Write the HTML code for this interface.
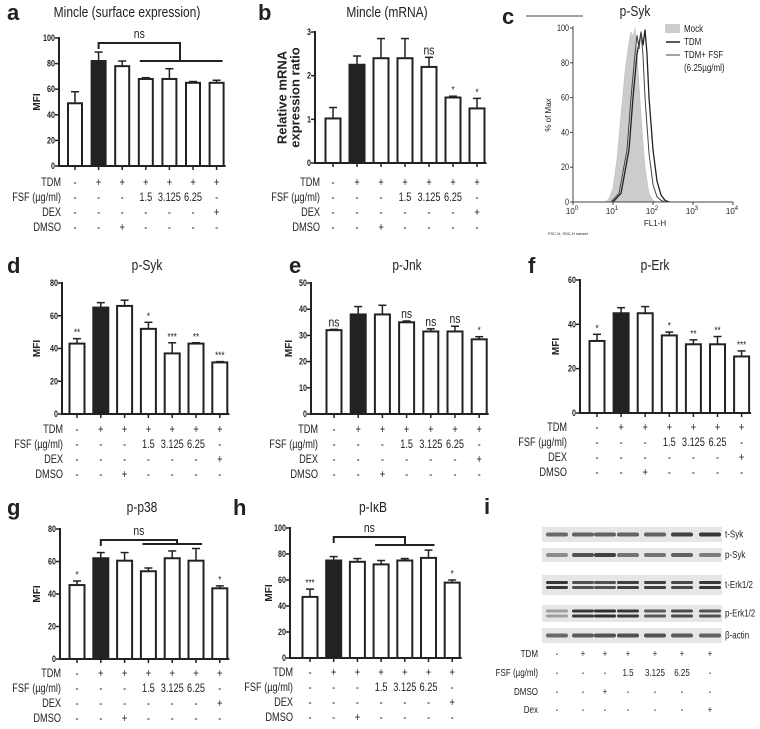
<!DOCTYPE html>
<html><head><meta charset="utf-8"><style>
html,body{margin:0;padding:0;background:#fff;}
svg{display:block;font-family:"Liberation Sans",sans-serif;}
</style></head><body>
<svg id="fig" width="760" height="729" viewBox="0 0 760 729" xmlns="http://www.w3.org/2000/svg"></svg>
<script>
// ---------- data ----------
const rowNames = ["TDM","FSF (\u00b5g/ml)","DEX","DMSO"];
const rowTDM = ["-","+","+","+","+","+","+"];
const rowFSF = ["-","-","-","1.5","3.125","6.25","-"];
const rowDEX = ["-","-","-","-","-","-","+"];
const rowDMSO = ["-","-","+","-","-","-","-"];

const aVals = [49,82,78,68,68,65,65];
const aErr = [9,7,4,1,8,1,2];
const aSig = ["","","","","","",""];
const aTicks = [0,20,40,60,80,100];

const bVals = [1.02,2.25,2.4,2.4,2.2,1.5,1.25];
const bErr = [0.25,0.2,0.45,0.45,0.22,0.03,0.23];
const bSig = ["","","","","ns","*","*"];
const bTicks = [0,1,2,3];

const dVals = [43,65,66,52,37,43,31.5];
const dErr = [3,3,3.5,4,6.5,0.5,0.5];
const dSig = ["**","","","*","***","**","***"];
const dTicks = [0,20,40,60,80];

const eVals = [32,38,38,35,31.5,31.5,28.5];
const eErr = [0.3,3,3.5,0.5,1,2,1];
const eSig = ["ns","","","ns","ns","ns","*"];
const eTicks = [0,10,20,30,40,50];

const fVals = [32.5,45,45,35,31,31,25.5];
const fErr = [3,2.5,3,1.5,2,3.5,2.5];
const fSig = ["*","","","*","**","**","***"];
const fTicks = [0,20,40,60];

const gVals = [45.5,62,60.5,54,62,60.5,43.5];
const gErr = [2.5,3.5,5,2,4.5,7.5,1.5];
const gSig = ["*","","","","","","*"];
const gTicks = [0,20,40,60,80];

const hVals = [47,75,74,72,75,77,58];
const hErr = [6,3,2.5,3,1.5,6,2];
const hSig = ["***","","","","","","*"];
const hTicks = [0,20,40,60,80,100];

// histogram (log10 FL1-H vs % of max)
const mockX = [0.8,0.9,1.0,1.1,1.2,1.3,1.4,1.45,1.5,1.55,1.6,1.7,1.8,1.9,2.0,2.1];
const mockY = [0,2,8,25,50,75,92,98,95,100,85,50,20,5,1,0];
const tdmX = [1.0,1.2,1.4,1.5,1.6,1.7,1.75,1.8,1.85,1.9,2.0,2.1,2.2,2.3,2.4];
const tdmY = [0,5,30,60,85,97,90,99,85,60,30,12,4,1,0];
const fsfX = [0.95,1.15,1.35,1.45,1.55,1.6,1.65,1.7,1.75,1.8,1.9,2.0,2.1,2.2,2.3];
const fsfY = [0,5,30,60,85,96,88,98,84,60,28,10,3,1,0];
const histTicks = [0,20,40,60,80,100];
const histXTicks = [0,1,2,3,4];

// western blot
const blotNames = ["t-Syk","p-Syk","t-Erk1/2","p-Erk1/2","\u03b2-actin"];
const blotIntensity = [
  [0.55,0.6,0.6,0.6,0.6,0.8,0.85],
  [0.35,0.7,0.8,0.5,0.5,0.6,0.45],
  [0.85,0.7,0.7,0.8,0.8,0.75,0.85],
  [0.25,0.85,0.9,0.85,0.65,0.75,0.7],
  [0.55,0.65,0.7,0.7,0.7,0.65,0.6]
];
const blotRowNames = ["TDM","FSF (\u00b5g/ml)","DMSO","Dex"];
const blotTDM = ["-","+","+","+","+","+","+"];
const blotFSF = ["-","-","-","1.5","3.125","6.25","-"];
const blotDMSO = ["-","-","+","-","-","-","-"];
const blotDex = ["-","-","-","-","-","-","+"];

// ---------- helpers ----------
const NS="http://www.w3.org/2000/svg";
const svg=document.getElementById('fig');
function mk(tag,attrs,parent){const e=document.createElementNS(NS,tag);for(const k in attrs)e.setAttribute(k,attrs[k]);(parent||svg).appendChild(e);return e;}
function txt(s,x,y,size,anchor,parent,extra){const t=mk('text',Object.assign({x:x,y:y,'font-size':size,'text-anchor':anchor||'middle',fill:'#222'},extra||{}),parent);t.textContent=s;return t;}
// condensed text (narrow look)
function ctxt(s,x,y,size,anchor,parent,extra){const t=mk('text',Object.assign({x:0,y:0,'font-size':size,'text-anchor':anchor||'middle',fill:'#222',transform:`translate(${x},${y}) scale(0.8,1)`},extra||{}),parent);t.textContent=s;return t;}

function barPanel(p){
  const g=mk('g',{});
  
  
  const ys=v=>p.y0-(v/p.ymax)*(p.y0-p.y1);
  const xs=i=>p.x1+i*p.dx;
  const bw=p.bw||15;
  const L=txt(p.letter,p.lx,p.ty+3,22,'start',g,{'font-weight':'bold'});
  
  
  const T=ctxt(p.title,p.tx,p.ty,15,'middle',g);
  
  
  p.vals.forEach((v,i)=>{
    const cx=xs(i),top=ys(v),et=ys(v+p.err[i]);
    const eb=mk('line',{x1:cx,x2:cx,y1:top,y2:et,stroke:'#222','stroke-width':1.5},g);
    
    
    mk('line',{x1:cx-4,x2:cx+4,y1:et,y2:et,stroke:'#222','stroke-width':1.5},g);
    const r=mk('rect',{x:cx-bw/2,y:top,width:bw,height:p.y0-top,fill:i===1?'#222':'#fff',stroke:'#222','stroke-width':2},g);
    
    
    mk('line',{x1:cx,x2:cx,y1:p.y0,y2:p.y0+4,stroke:'#222','stroke-width':1.5},g);
    if(p.sig[i]){
      const s=ctxt(p.sig[i],cx,et-3,p.sig[i]==='ns'?13:10,'middle',g);
      
      
    }
  });
  const ya=mk('line',{x1:p.x0,x2:p.x0,y1:p.y1-1,y2:p.y0+1,stroke:'#222','stroke-width':2},g);
  
  
  const xa=mk('line',{x1:p.x0-1,x2:xs(6)+bw/2+2,y1:p.y0,y2:p.y0,stroke:'#222','stroke-width':2},g);
  
  
  p.ticks.forEach(t=>{
    const y=ys(t);
    mk('line',{x1:p.x0-4,x2:p.x0,y1:y,y2:y,stroke:'#222','stroke-width':1.5},g);
    const tl=ctxt(String(t),p.x0-4,y+3,9,'end',g,{'font-weight':'bold'});
    
    
  });
  const yl=mk('g',{transform:'translate('+p.ylx+','+((p.y0+p.y1)/2)+') rotate(-90)'},g);
  
  
  p.ylab.forEach((s,k)=>txt(s,0,k*13-(p.ylab.length-1)*13/2+4,p.ylab.length>1?13:10,'middle',yl,{'font-weight':'bold'}));
  const rows=[rowTDM,rowFSF,rowDEX,rowDMSO];
  rows.forEach((row,r)=>{
    const y=p.ry+r*15;
    const rl=ctxt(rowNames[r],p.rlx,y,11.5,'end',g);
    
    
    row.forEach((s,i)=>ctxt(s,xs(i),y,11.5,'middle',g));
  });
  if(p.bracket){
    const b=p.bracket;
    const bg=mk('g',{stroke:'#222','stroke-width':2,fill:'none'},g);
    
    
    mk('polyline',{points:`${xs(1)},${b.y1+6} ${xs(1)},${b.y1} ${b.xr},${b.y1} ${b.xr},${b.y2}`},bg);
    mk('line',{x1:xs(3)-6,x2:xs(b.end)+6,y1:b.y2,y2:b.y2},bg);
    const ns=ctxt('ns',(xs(1)+b.xr)/2,b.y1-5,13,'middle',g);
    
    
  }
}

barPanel({name:'panel-a-mincle-surface',letter:'a',lx:7,title:'Mincle (surface expression)',tx:127,ty:17,
  vals:aVals,err:aErr,sig:aSig,ticks:aTicks,ymax:100,x0:59,y0:166,y1:38,x1:75,dx:23.6,bw:14,
  ylab:['MFI'],ylx:36,ry:186,rlx:61,bracket:{y1:43,y2:61,xr:180,end:6}});
barPanel({name:'panel-b-mincle-mrna',letter:'b',lx:258,title:'Mincle (mRNA)',tx:387,ty:17,
  vals:bVals,err:bErr,sig:bSig,ticks:bTicks,ymax:3,x0:315,y0:163,y1:32,x1:333,dx:24,bw:15,
  ylab:['Relative mRNA','expression ratio'],ylx:289,ry:186,rlx:320});
barPanel({name:'panel-d-p-syk',letter:'d',lx:7,title:'p-Syk',tx:147,ty:270,
  vals:dVals,err:dErr,sig:dSig,ticks:dTicks,ymax:80,x0:62,y0:414,y1:283,x1:77,dx:23.8,bw:15,
  ylab:['MFI'],ylx:36,ry:433,rlx:63});
barPanel({name:'panel-e-p-jnk',letter:'e',lx:289,title:'p-Jnk',tx:407,ty:270,
  vals:eVals,err:eErr,sig:eSig,ticks:eTicks,ymax:50,x0:311,y0:414,y1:283,x1:334,dx:24.2,bw:15,
  ylab:['MFI'],ylx:288,ry:433,rlx:318});
barPanel({name:'panel-f-p-erk',letter:'f',lx:528,title:'p-Erk',tx:655,ty:270,
  vals:fVals,err:fErr,sig:fSig,ticks:fTicks,ymax:60,x0:580,y0:413,y1:280,x1:597,dx:24.1,bw:15,
  ylab:['MFI'],ylx:555,ry:431,rlx:567});
barPanel({name:'panel-g-p-p38',letter:'g',lx:7,title:'p-p38',tx:142,ty:512,
  vals:gVals,err:gErr,sig:gSig,ticks:gTicks,ymax:80,x0:60,y0:659,y1:529,x1:77,dx:23.8,bw:15,
  ylab:['MFI'],ylx:36,ry:677,rlx:61,bracket:{y1:540,y2:544,xr:177,end:5}});
barPanel({name:'panel-h-p-ikb',letter:'h',lx:233,title:'p-I\u03baB',tx:373,ty:512,
  vals:hVals,err:hErr,sig:hSig,ticks:hTicks,ymax:100,x0:290,y0:658,y1:528,x1:310,dx:23.7,bw:15,
  ylab:['MFI'],ylx:268,ry:676,rlx:293,bracket:{y1:537,y2:545,xr:405,end:5}});

// ---------- panel c histogram ----------
(function(){
  const g=mk('g',{});
  
  
  const X0=573,Y0=202,Y1=28,DEC=40;
  const xs=l=>X0+l*DEC, ys=v=>Y0-v/100*(Y0-Y1);
  const L=txt('c',502,24,22,'start',g,{'font-weight':'bold'});
  
  
  const T=ctxt('p-Syk',635,16,15,'middle',g);
  
  
  mk('line',{x1:526,x2:583,y1:16,y2:16,stroke:'#444','stroke-width':1},g);
  function path(xa,ya){return xa.map((x,i)=>(i?'L':'M')+xs(x).toFixed(1)+','+ys(ya[i]).toFixed(1)).join(' ');}
  const m=mk('path',{d:path(mockX,mockY)+' Z',fill:'#ccc',stroke:'#bbb','stroke-width':0.5},g);
  
  
  const t=mk('path',{d:path(tdmX,tdmY),fill:'none',stroke:'#222','stroke-width':1.3},g);
  
  
  const f=mk('path',{d:path(fsfX,fsfY),fill:'none',stroke:'#444','stroke-width':1},g);
  
  
  mk('line',{x1:X0,x2:X0,y1:Y1-2,y2:Y0,stroke:'#444','stroke-width':1},g);
  mk('line',{x1:X0,x2:xs(4),y1:Y0,y2:Y0,stroke:'#444','stroke-width':1},g);
  histTicks.forEach(v=>{mk('line',{x1:X0-3,x2:X0,y1:ys(v),y2:ys(v),stroke:'#444'},g);
    const tl=ctxt(String(v),X0-4,ys(v)+3,9,'end',g);
    
    });
  histXTicks.forEach(v=>{mk('line',{x1:xs(v),x2:xs(v),y1:Y0,y2:Y0+3,stroke:'#444'},g);
    const tl=txt('10',xs(v)-1,Y0+12,8,'middle',g);
    const s=mk('tspan',{'font-size':6,dy:-4},tl);s.textContent=String(v);
    
    });
  const yl=txt('% of Max',0,0,8,'middle',g,{transform:'translate(551,115) rotate(-90)'});
  
  
  const xl=txt('FL1-H',655,226,8,'middle',g);
  
  
  txt('FSC-H, SSC-H subset',548,235,4,'start',g);
  const lg=mk('g',{},g);
  
  
  mk('rect',{x:665,y:24,width:15,height:9,fill:'#ccc'},lg);
  ctxt('Mock',684,32,10,'start',lg);
  mk('line',{x1:666,x2:680,y1:42,y2:42,stroke:'#222','stroke-width':1.5},lg);
  ctxt('TDM',684,45,10,'start',lg);
  mk('line',{x1:666,x2:680,y1:55,y2:55,stroke:'#444','stroke-width':1},lg);
  ctxt('TDM+ FSF',684,58,10,'start',lg);
  ctxt('(6.25\u00b5g/ml)',684,71,10,'start',lg);
})();

// ---------- panel i western blot ----------
(function(){
  const g=mk('g',{});
  
  
  const L=txt('i',484,514,22,'start',g,{'font-weight':'bold'});
  
  
  const stripY=[527,548,575,605,628], stripH=[15,14,20,17,15];
  const lanes=[557,583,605,628,655,682,710];
  blotIntensity.forEach((row,r)=>{
    const sg=mk('g',{},g);
    
    
    mk('rect',{x:542,y:stripY[r],width:180,height:stripH[r],fill:'#e6e6e6'},sg);
    row.forEach((v,i)=>{
      const cy=stripY[r]+stripH[r]/2;
      const double=(r===2||r===3);
      const c=Math.round(200-v*170);
      if(double){
        mk('rect',{x:lanes[i]-11,y:cy-4,width:22,height:3,rx:1.5,fill:`rgb(${c},${c},${c})`},sg);
        mk('rect',{x:lanes[i]-11,y:cy+1,width:22,height:3,rx:1.5,fill:`rgb(${c},${c},${c})`},sg);
      } else {
        mk('rect',{x:lanes[i]-11,y:cy-2,width:22,height:4,rx:2,fill:`rgb(${c},${c},${c})`},sg);
      }
    });
    const bl=ctxt(blotNames[r],725,stripY[r]+stripH[r]/2+3,10,'start',g);
    
    
  });
  const rows=[blotTDM,blotFSF,blotDMSO,blotDex], ry=[657,676,695,713];
  rows.forEach((row,r)=>{
    const rl=ctxt(blotRowNames[r],538,ry[r],10,'end',g);
    
    
    row.forEach((s,i)=>ctxt(s,lanes[i],ry[r],10,'middle',g));
  });
})();
</script>
</body></html>
